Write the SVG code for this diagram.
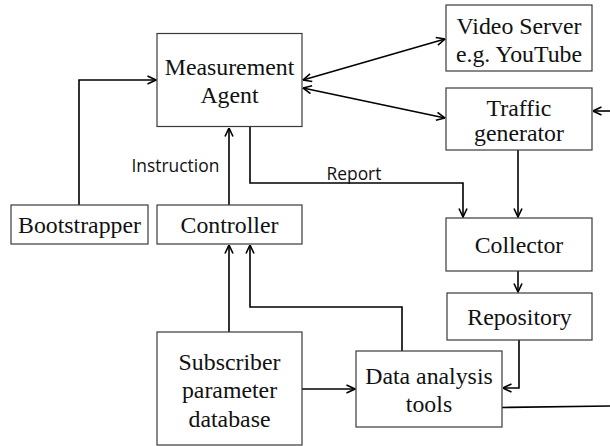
<svg xmlns="http://www.w3.org/2000/svg" width="610" height="446" viewBox="0 0 610 446">
<defs>
<marker id="ah" viewBox="0 0 10 10" refX="9.5" refY="5" markerWidth="10" markerHeight="10" markerUnits="userSpaceOnUse" orient="auto-start-reverse">
<path d="M1,1 L9.5,5 L1,9" fill="none" stroke="#000" stroke-width="1.6"/>
</marker>
<style>
.box{fill:#fff;stroke:#3a3a3a;stroke-width:1.2}
.t{font-family:"Liberation Serif","Times New Roman",serif;font-size:23.8px;fill:#111;text-anchor:middle}
.c{fill:none;stroke:#000;stroke-width:1.6}
.a{marker-end:url(#ah)}
.b{marker-start:url(#ah);marker-end:url(#ah)}
.l{font-family:"Open Sans","Liberation Sans",sans-serif;font-size:17.4px;fill:#111}
</style>
</defs>
<rect width="610" height="446" fill="#fff"/>
<g id="connectors">
<path class="c a" d="M79,205 V80 H156"/>
<path class="c a" d="M229,205 V128"/>
<path class="c a" d="M250,127 V183 H463 V217"/>
<path class="c b" d="M303,80 L445,39"/>
<path class="c b" d="M303,88 L445,118"/>
<path class="c a" d="M610,111 L593,111"/>
<path class="c a" d="M518,150 V217"/>
<path class="c a" d="M518,271 V292"/>
<path class="c a" d="M519,340 V388 H503"/>
<path class="c a" d="M402,351 V307 H250 V245"/>
<path class="c a" d="M229,332 V245"/>
<path class="c a" d="M302,389 H355"/>
<path class="c" d="M502,407.5 L610,406"/>
<text class="l" x="131.5" y="172">Instruction</text>
<text class="l" x="326.5" y="179.5">Report</text>
</g>
<g id="measurement-agent">
<rect class="box" x="157" y="33.5" width="145" height="93"/>
<text class="t" x="229.5" y="75">Measurement</text>
<text class="t" x="229.5" y="103">Agent</text>
</g>
<g id="video-server">
<rect class="box" x="446" y="5" width="146" height="66"/>
<text class="t" x="519" y="34">Video Server</text>
<text class="t" x="519" y="62">e.g. YouTube</text>
</g>
<g id="traffic-generator">
<rect class="box" x="446" y="88" width="146" height="62"/>
<text class="t" x="519" y="116">Traffic</text>
<text class="t" x="519" y="141">generator</text>
</g>
<g id="bootstrapper">
<rect class="box" x="11" y="205" width="137" height="39"/>
<text class="t" x="79.5" y="233">Bootstrapper</text>
</g>
<g id="controller">
<rect class="box" x="157" y="205" width="145" height="39"/>
<text class="t" x="229.5" y="233">Controller</text>
</g>
<g id="collector">
<rect class="box" x="446" y="218" width="146" height="53"/>
<text class="t" x="519" y="253">Collector</text>
</g>
<g id="repository">
<rect class="box" x="447" y="293" width="145" height="47"/>
<text class="t" x="519.5" y="325">Repository</text>
</g>
<g id="subscriber-db">
<rect class="box" x="157" y="332" width="145" height="113"/>
<text class="t" x="229.5" y="370">Subscriber</text>
<text class="t" x="229.5" y="398">parameter</text>
<text class="t" x="229.5" y="427">database</text>
</g>
<g id="data-analysis-tools">
<rect class="box" x="356" y="351" width="146" height="76"/>
<text class="t" x="429" y="384">Data analysis</text>
<text class="t" x="429" y="412">tools</text>
</g>
</svg>
